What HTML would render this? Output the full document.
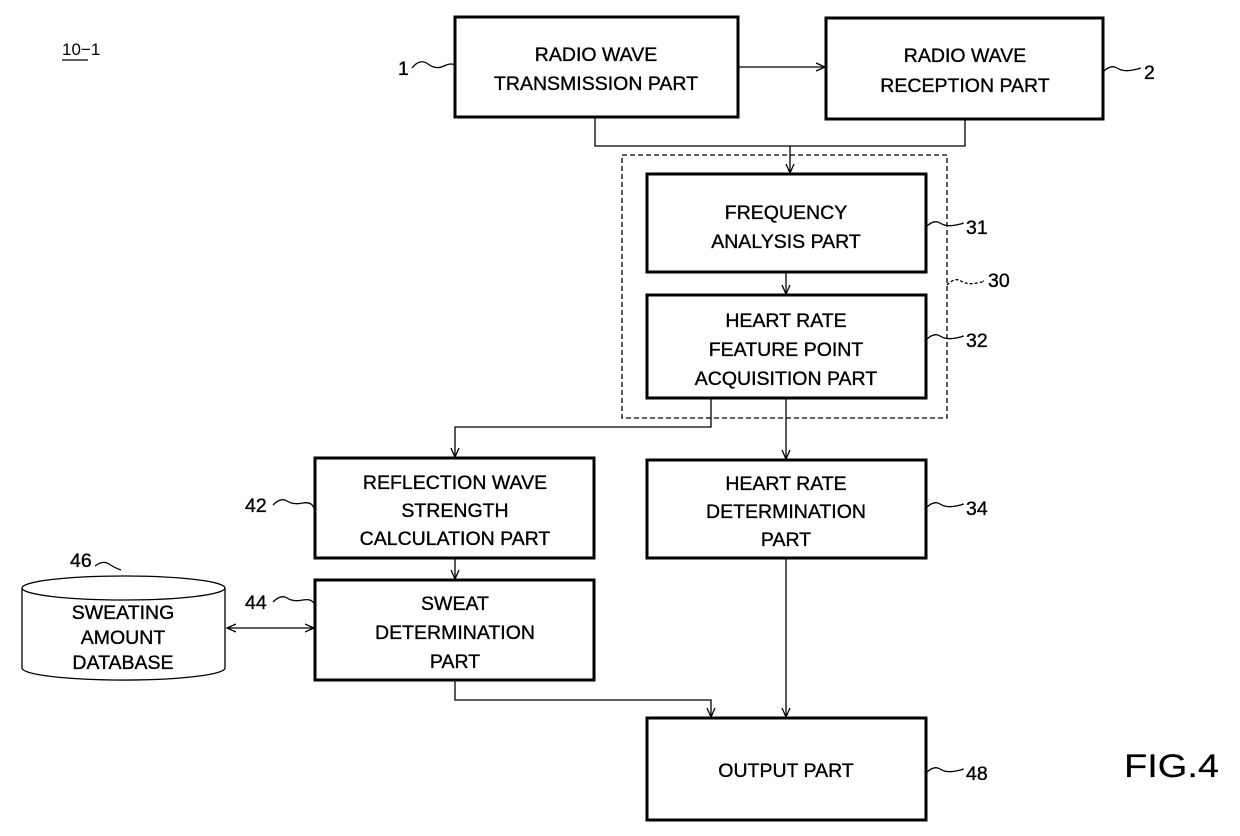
<!DOCTYPE html>
<html><head><meta charset="utf-8"><style>
body{margin:0;background:#fff}
svg{display:block}
text{font-family:"Liberation Sans",sans-serif;font-size:19.5px;fill:#000;stroke:#000;stroke-width:0.35}
</style></head><body>
<svg width="1240" height="836" viewBox="0 0 1240 836" xmlns="http://www.w3.org/2000/svg">
<defs><marker id="a" markerWidth="10" markerHeight="10" refX="9" refY="5" orient="auto-start-reverse" markerUnits="userSpaceOnUse"><path d="M0,1 L9,5 L0,9" fill="none" stroke="#000" stroke-width="1.3"/></marker></defs>
<g fill="none" stroke="#000" stroke-width="3">
<rect x="455" y="17" width="283" height="100"/>
<rect x="826" y="18" width="277" height="101"/>
<rect x="647" y="174" width="279" height="98"/>
<rect x="647" y="295" width="279" height="103"/>
<rect x="315" y="458" width="279" height="100"/>
<rect x="647" y="460" width="279" height="98"/>
<rect x="315" y="580" width="279" height="100"/>
<rect x="647" y="718" width="279" height="102"/>
</g>
<rect x="622" y="155" width="325" height="263" fill="none" stroke="#000" stroke-width="1.3" stroke-dasharray="5,3"/>
<g fill="none" stroke="#000" stroke-width="1.3">
<path d="M22,588 L22,668 A101,12 0 0 0 225,668 L225,588"/>
<ellipse cx="123.5" cy="588" rx="101.5" ry="12"/>
<line x1="738" y1="67" x2="825" y2="67" marker-end="url(#a)"/>
<path d="M595,117 V146 H965 V119"/>
<line x1="790" y1="146" x2="790" y2="173" marker-end="url(#a)"/>
<line x1="786" y1="272" x2="786" y2="294" marker-end="url(#a)"/>
<line x1="786" y1="398" x2="786" y2="459" marker-end="url(#a)"/>
<path d="M711,398 V427 H455 V457" marker-end="url(#a)"/>
<line x1="455" y1="558" x2="455" y2="579" marker-end="url(#a)"/>
<path d="M455,680 V700 H711 V717" marker-end="url(#a)"/>
<line x1="786" y1="558" x2="786" y2="717" marker-end="url(#a)"/>
<line x1="227" y1="628" x2="314" y2="628" marker-start="url(#a)" marker-end="url(#a)"/>
<path d="M412,68 q8,-10 16,-4 t16,2 t12,0"/>
<path d="M1103,72 q8,-8 14,-4 t16,2 t6,-2"/>
<path d="M926,227 q8,-8 14,-4 t16,2 t6,-2"/>
<path d="M947,285 q8,-8 14,-4 t16,2 t6,-2" stroke-dasharray="3,2"/>
<path d="M926,340 q8,-8 14,-4 t16,2 t6,-2"/>
<path d="M273,505 q8,-8 14,-4 t16,2 t12,8"/>
<path d="M926,508 q8,-8 14,-4 t16,2 t6,-2"/>
<path d="M273,602 q8,-8 14,-4 t16,2 t12,6"/>
<path d="M926,773 q8,-8 14,-4 t16,2 t6,-2"/>
<path d="M95,566 q8,-6 14,-2 t12,6"/>
<line x1="62" y1="60" x2="88" y2="60"/>
</g>
<g text-anchor="middle">
<text x="596" y="61">RADIO WAVE</text><text x="596" y="90">TRANSMISSION PART</text>
<text x="965" y="62">RADIO WAVE</text><text x="965" y="92">RECEPTION PART</text>
<text x="786" y="219">FREQUENCY</text><text x="786" y="248">ANALYSIS PART</text>
<text x="786" y="327">HEART RATE</text><text x="786" y="356">FEATURE POINT</text><text x="786" y="385">ACQUISITION PART</text>
<text x="455" y="489">REFLECTION WAVE</text><text x="455" y="517">STRENGTH</text><text x="455" y="545">CALCULATION PART</text>
<text x="786" y="490">HEART RATE</text><text x="786" y="518">DETERMINATION</text><text x="786" y="546">PART</text>
<text x="455" y="610">SWEAT</text><text x="455" y="639">DETERMINATION</text><text x="455" y="668">PART</text>
<text x="786" y="777">OUTPUT PART</text>
<text x="123" y="619">SWEATING</text><text x="123" y="644">AMOUNT</text><text x="123" y="669">DATABASE</text>
</g>
<text x="398" y="75">1</text>
<text x="1144" y="79">2</text>
<text x="966" y="234">31</text>
<text x="988" y="287">30</text>
<text x="966" y="347">32</text>
<text x="245" y="512">42</text>
<text x="966" y="515">34</text>
<text x="70" y="567">46</text>
<text x="245" y="609">44</text>
<text x="966" y="780">48</text>
<text x="62" y="55" style="font-size:17px;stroke-width:0">10−1</text>
<text x="1124" y="777" style="font-size:32px;stroke-width:0.2" textLength="95" lengthAdjust="spacingAndGlyphs">FIG.4</text>
</svg>
</body></html>
